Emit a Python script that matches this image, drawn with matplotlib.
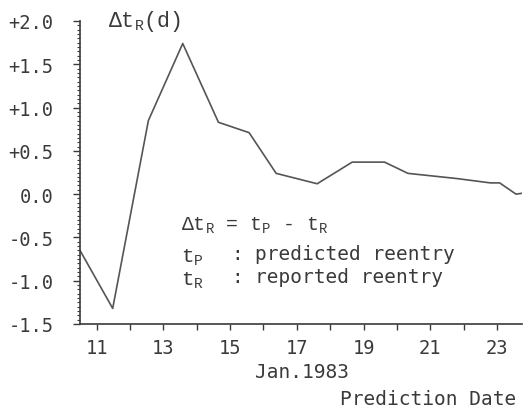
import matplotlib
matplotlib.use("Agg")
import matplotlib.pyplot as plt
from matplotlib.ticker import MultipleLocator, FixedLocator

# prediction date (day of Jan. 1983) and reentry time error (days)
pred_day = [10.5, 11.48, 12.55, 13.58, 14.65, 15.57, 16.38, 17.61,
            18.66, 19.63, 20.33, 21.8, 22.80, 23.08, 23.57, 23.75]
delta_tr = [-0.65, -1.32, 0.85, 1.74, 0.83, 0.71, 0.24, 0.12,
            0.37, 0.37, 0.24, 0.18, 0.13, 0.13, 0.0, 0.01]

x_ticks = [11, 13, 15, 17, 19, 21, 23]
y_ticks = [2.0, 1.5, 1.0, 0.5, 0.0, -0.5, -1.0, -1.5]
y_labels = ["+2.0", "+1.5", "+1.0", "+0.5", "0.0", "-0.5", "-1.0", "-1.5"]

plt.rcParams["mathtext.fontset"] = "custom"
plt.rcParams["mathtext.rm"] = "Liberation Mono"
plt.rcParams["mathtext.it"] = "Liberation Mono"

W, H = 528, 414
COR = "#3a3a3a"
MONO = "DejaVu Sans Mono"
TYPE = "Liberation Mono"

fig = plt.figure(figsize=(W / 100, H / 100), dpi=100)
ax = fig.add_axes([80 / W, 1 - 325 / H, (522 - 80) / W, (325 - 22) / H])


def px(x, y):
    return x / W, 1 - y / H


ax.plot(pred_day, delta_tr, color="#555555", linewidth=1.2)

ax.set_xlim(10.5, 23.75)
ax.set_ylim(-1.5, 2.0)
for s in ["top", "right"]:
    ax.spines[s].set_visible(False)
for s in ["left", "bottom"]:
    ax.spines[s].set_color(COR)
    ax.spines[s].set_linewidth(1.2)

ax.set_yticks(y_ticks)
ax.set_yticklabels(y_labels, fontfamily=MONO, fontsize=13.5, color=COR)
ax.yaxis.set_minor_locator(MultipleLocator(0.05))
ax.set_xticks(x_ticks)
ax.set_xticklabels([str(d) for d in x_ticks], fontfamily=MONO, fontsize=13.5, color=COR)
ax.xaxis.set_minor_locator(FixedLocator(range(12, 24, 2)))
ax.tick_params(axis="y", which="major", length=5, width=1, color=COR, pad=14)
ax.tick_params(axis="y", which="minor", length=2.5, width=0.8, color=COR)
ax.tick_params(axis="x", which="both", length=4, width=1, color=COR, pad=6)

fig.text(*px(108, 22), r"$\Delta\mathrm{t}_\mathrm{R}$(d)", fontfamily=TYPE,
         fontsize=15.5, color=COR, ha="left", va="center")

fig.text(*px(181, 226), r"$\Delta\mathrm{t}_\mathrm{R}$ = $\mathrm{t}_\mathrm{P}$ - $\mathrm{t}_\mathrm{R}$",
         fontfamily=TYPE, fontsize=14.3, color=COR, ha="left", va="center")
fig.text(*px(181, 258), r"$\mathrm{t}_\mathrm{P}$", fontfamily=TYPE, fontsize=15,
         color=COR, ha="left", va="center")
fig.text(*px(181, 281), r"$\mathrm{t}_\mathrm{R}$", fontfamily=TYPE, fontsize=15,
         color=COR, ha="left", va="center")
fig.text(*px(231, 255), ":", fontfamily=MONO, fontsize=14, color=COR, ha="left", va="center")
fig.text(*px(231, 278), ":", fontfamily=MONO, fontsize=14, color=COR, ha="left", va="center")
fig.text(*px(255, 255), "predicted reentry", fontfamily=MONO, fontsize=14,
         color=COR, ha="left", va="center")
fig.text(*px(255, 278), "reported reentry", fontfamily=MONO, fontsize=14,
         color=COR, ha="left", va="center")

fig.text(*px(302, 373), "Jan.1983", fontfamily=MONO, fontsize=14, color=COR,
         ha="center", va="center")
fig.text(*px(516, 400), "Prediction Date", fontfamily=MONO, fontsize=14, color=COR,
         ha="right", va="center")

fig.savefig("out.png", dpi=100)
